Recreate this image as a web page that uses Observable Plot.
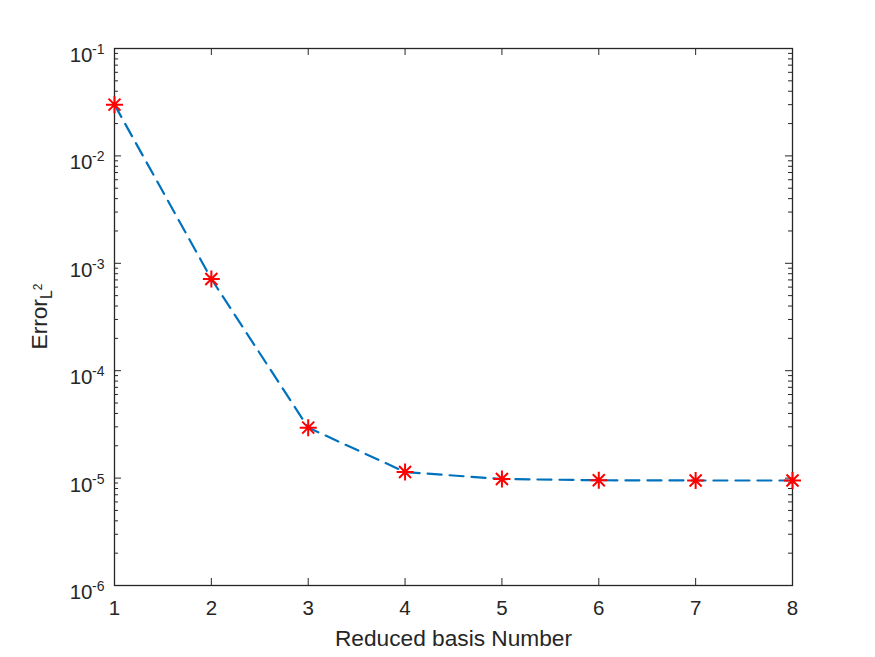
<!DOCTYPE html>
<html>
<head>
<meta charset="utf-8">
<script src="https://cdn.jsdelivr.net/npm/d3@7"></script>
<script src="https://cdn.jsdelivr.net/npm/@observablehq/plot@0.6"></script>
<style>
  html, body { margin: 0; padding: 0; background: #fff; }
  #chart { width: 875px; height: 657px; }
</style>
</head>
<body>
<div id="chart"></div>
<script>
// ---- data ----
const basisNumber = [1, 2, 3, 4, 5, 6, 7, 8];
const errorL2 = [0.0300, 7.15e-4, 2.95e-5, 1.14e-5, 9.8e-6, 9.55e-6, 9.5e-6, 9.5e-6];
const xTicks = [1, 2, 3, 4, 5, 6, 7, 8];
const yExponents = [-6, -5, -4, -3, -2, -1];
const xLabel = "Reduced basis Number";

// ---- derived ----
const data = basisNumber.map((x, i) => ({x, y: errorL2[i]}));
const yMajor = yExponents.map(e => Math.pow(10, e));
const yMinor = [];
for (const e of yExponents.slice(0, -1)) for (let k = 2; k <= 9; k++) yMinor.push(k * Math.pow(10, e));

const W = 875, H = 657, mL = 114, mR = 83, mT = 48, mB = 72;
const pw = W - mL - mR, ph = H - mT - mB;
const axisColor = "#262626";
const font = "'Liberation Sans', Arial, Helvetica, sans-serif";

const asterisk = {
  draw(ctx, size) {
    const r = Math.sqrt(size / Math.PI);
    const d = r * Math.SQRT1_2;
    ctx.moveTo(-r, 0); ctx.lineTo(r, 0);
    ctx.moveTo(0, -r); ctx.lineTo(0, r);
    ctx.moveTo(-d, -d); ctx.lineTo(d, d);
    ctx.moveTo(-d, d); ctx.lineTo(d, -d);
  }
};

const svg = Plot.plot({
  width: W, height: H,
  marginLeft: mL, marginRight: mR, marginTop: mT, marginBottom: mB,
  style: {fontFamily: font, fontSize: "20px", color: axisColor, background: "#fff"},
  x: {domain: [1, 8], axis: null},
  y: {type: "log", domain: [1e-6, 1e-1], axis: null},
  marks: [
    // ticks (inward, all four sides)
    Plot.tickY(yMajor, {y: d => d, insetRight: pw - 7, stroke: axisColor, strokeWidth: 1}),
    Plot.tickY(yMajor, {y: d => d, insetLeft: pw - 7, stroke: axisColor, strokeWidth: 1}),
    Plot.tickY(yMinor, {y: d => d, insetRight: pw - 4, stroke: axisColor, strokeWidth: 1}),
    Plot.tickY(yMinor, {y: d => d, insetLeft: pw - 4, stroke: axisColor, strokeWidth: 1}),
    Plot.tickX(xTicks, {x: d => d, insetTop: ph - 7, stroke: axisColor, strokeWidth: 1}),
    Plot.tickX(xTicks, {x: d => d, insetBottom: ph - 7, stroke: axisColor, strokeWidth: 1}),
    Plot.frame({stroke: axisColor, strokeWidth: 1.3}),
    // data
    Plot.line(data, {x: "x", y: "y", stroke: "#0072BD", strokeWidth: 2.2, strokeDasharray: "14,8"}),
    Plot.dot(data, {x: "x", y: "y", symbol: asterisk, r: 8.5, fill: "none", stroke: "#FF0000", strokeWidth: 2}),
    // x tick labels
    Plot.text(xTicks, {x: d => d, frameAnchor: "bottom", lineAnchor: "top", dy: 15, text: d => String(d), fontSize: 20.5, fill: axisColor}),
    // y tick labels: "10" and exponent
    Plot.text(yMajor, {y: d => d, frameAnchor: "left", textAnchor: "end", dx: -22, dy: 7, text: () => "10", fontSize: 20.5, fill: axisColor}),
    Plot.text(yExponents, {y: e => Math.pow(10, e), frameAnchor: "left", textAnchor: "end", dx: -10, dy: 1, text: e => String(e), fontSize: 14, fill: axisColor}),
    // x axis label
    Plot.text([xLabel], {frameAnchor: "bottom", lineAnchor: "top", dy: 44, text: d => d, fontSize: 22.7, fill: axisColor})
  ]
});

// y axis label with subscript / superscript
const lab = d3.select(svg).append("text")
  .attr("transform", `translate(47,${mT + ph / 2}) rotate(-90)`)
  .attr("text-anchor", "middle")
  .attr("fill", axisColor)
  .style("font-family", font)
  .style("font-size", "22.7px");
lab.append("tspan").text("Error");
lab.append("tspan").attr("dy", 5).style("font-size", "16px").text("L");
lab.append("tspan").attr("dy", -10).style("font-size", "12px").text("2");

document.getElementById("chart").appendChild(svg);
</script>
</body>
</html>
